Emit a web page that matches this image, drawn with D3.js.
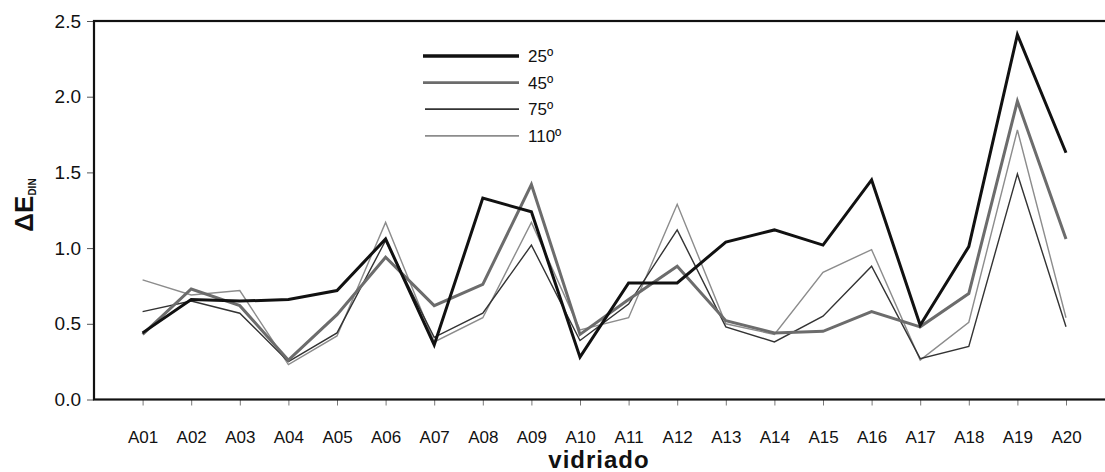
<!DOCTYPE html>
<html>
<head>
<meta charset="utf-8">
<script src="https://cdn.jsdelivr.net/npm/d3@7"></script>
<style>
  html, body { margin: 0; padding: 0; background: #fff; }
  svg { display: block; font-family: "Liberation Sans", Arial, sans-serif; }
</style>
</head>
<body>
<svg id="chart" width="1105" height="472"></svg>
<script>
// Glaze samples (vidriado) and colour difference ΔE_DIN per viewing angle
const categories = ["A01","A02","A03","A04","A05","A06","A07","A08","A09","A10",
                    "A11","A12","A13","A14","A15","A16","A17","A18","A19","A20"];
const seriesNames = ["25º","45º","75º","110º"];
const angle25  = [0.44,0.66,0.65,0.66,0.72,1.06,0.36,1.33,1.24,0.28,0.77,0.77,1.04,1.12,1.02,1.45,0.49,1.01,2.41,1.63];
const angle45  = [0.43,0.73,0.62,0.26,0.56,0.94,0.62,0.76,1.42,0.43,0.66,0.88,0.52,0.44,0.45,0.58,0.48,0.70,1.97,1.06];
const angle75  = [0.58,0.65,0.57,0.25,0.44,1.05,0.41,0.57,1.02,0.39,0.63,1.12,0.48,0.38,0.55,0.88,0.27,0.35,1.49,0.48];
const angle110 = [0.79,0.69,0.72,0.23,0.42,1.17,0.38,0.54,1.17,0.46,0.54,1.29,0.50,0.43,0.84,0.99,0.26,0.51,1.78,0.54];
const yTicks = [0, 0.5, 1.0, 1.5, 2.0, 2.5];

const series = [
  { name: seriesNames[0], values: angle25,  color: "#111111", width: 3.0 },
  { name: seriesNames[1], values: angle45,  color: "#6c6c6c", width: 3.0 },
  { name: seriesNames[2], values: angle75,  color: "#333333", width: 1.4 },
  { name: seriesNames[3], values: angle110, color: "#8c8c8c", width: 1.4 }
];

const svg = d3.select("#chart");
const plotLeft = 94, plotTop = 21, plotBottom = 399.5, plotRight = 1114.6;
const fontFamily = "Liberation Sans, Arial, sans-serif";

const x = d3.scaleLinear().domain([0, categories.length + 1]).range([plotLeft, plotRight]);
const y = d3.scaleLinear().domain([0, 2.5]).range([plotBottom, plotTop]);

// Y axis ticks and labels
const yAxis = svg.append("g")
  .attr("transform", `translate(${plotLeft},0)`)
  .call(d3.axisLeft(y).tickValues(yTicks).tickFormat(d3.format(".1f")).tickSize(7).tickPadding(6));
yAxis.select(".domain").remove();
yAxis.selectAll(".tick line").attr("stroke", "#555").attr("stroke-width", 1);
yAxis.selectAll(".tick text").attr("font-size", 19).attr("fill", "#111")
  .attr("font-family", fontFamily);

// X axis ticks and labels
const xAxis = svg.append("g")
  .attr("transform", `translate(0,${plotBottom})`)
  .call(d3.axisBottom(x)
    .tickValues(d3.range(1, categories.length + 1))
    .tickFormat(i => categories[i - 1])
    .tickSize(6).tickPadding(25));
xAxis.select(".domain").remove();
xAxis.selectAll(".tick line").attr("stroke", "#777").attr("stroke-width", 1);
xAxis.selectAll(".tick text").attr("font-size", 17).attr("fill", "#111")
  .attr("font-family", fontFamily);

// Plot frame
svg.append("rect")
  .attr("x", plotLeft).attr("y", plotTop)
  .attr("width", plotRight - plotLeft).attr("height", plotBottom - plotTop)
  .attr("fill", "none").attr("stroke", "#111").attr("stroke-width", 2.2);

// Series lines
const line = d3.line()
  .x((d, i) => x(i + 1))
  .y(d => y(d));

svg.append("g").selectAll("path")
  .data(series.slice().reverse())
  .join("path")
  .attr("d", s => line(s.values))
  .attr("fill", "none")
  .attr("stroke", s => s.color)
  .attr("stroke-width", s => s.width)
  .attr("stroke-linejoin", "miter");

// Legend
const legend = svg.append("g").attr("transform", "translate(423,56)");
series.forEach((s, i) => {
  const g = legend.append("g").attr("transform", `translate(0,${i * 26.6})`);
  g.append("line")
    .attr("x1", i < 2 ? 0 : 2).attr("x2", 96)
    .attr("y1", 0).attr("y2", 0)
    .attr("stroke", s.color).attr("stroke-width", i === 0 ? 3.4 : s.width + (i === 1 ? -0.3 : 0.3));
  g.append("text")
    .attr("x", 105).attr("y", 0).attr("dy", "0.36em")
    .attr("font-size", 17).attr("fill", "#111")
    .text(s.name);
});

// Axis titles
svg.append("text")
  .attr("x", 599).attr("y", 468)
  .attr("text-anchor", "middle")
  .attr("font-size", 24).attr("font-weight", "bold").attr("fill", "#111")
  .attr("letter-spacing", "1")
  .text("vidriado");

const yTitle = svg.append("text")
  .attr("transform", "translate(33,205) rotate(-90)")
  .attr("text-anchor", "middle")
  .attr("font-weight", "bold").attr("fill", "#111");
yTitle.append("tspan").attr("font-size", 26).text("ΔE");
yTitle.append("tspan").attr("font-size", 10).attr("dy", 3).text("DIN");
</script>
</body>
</html>
